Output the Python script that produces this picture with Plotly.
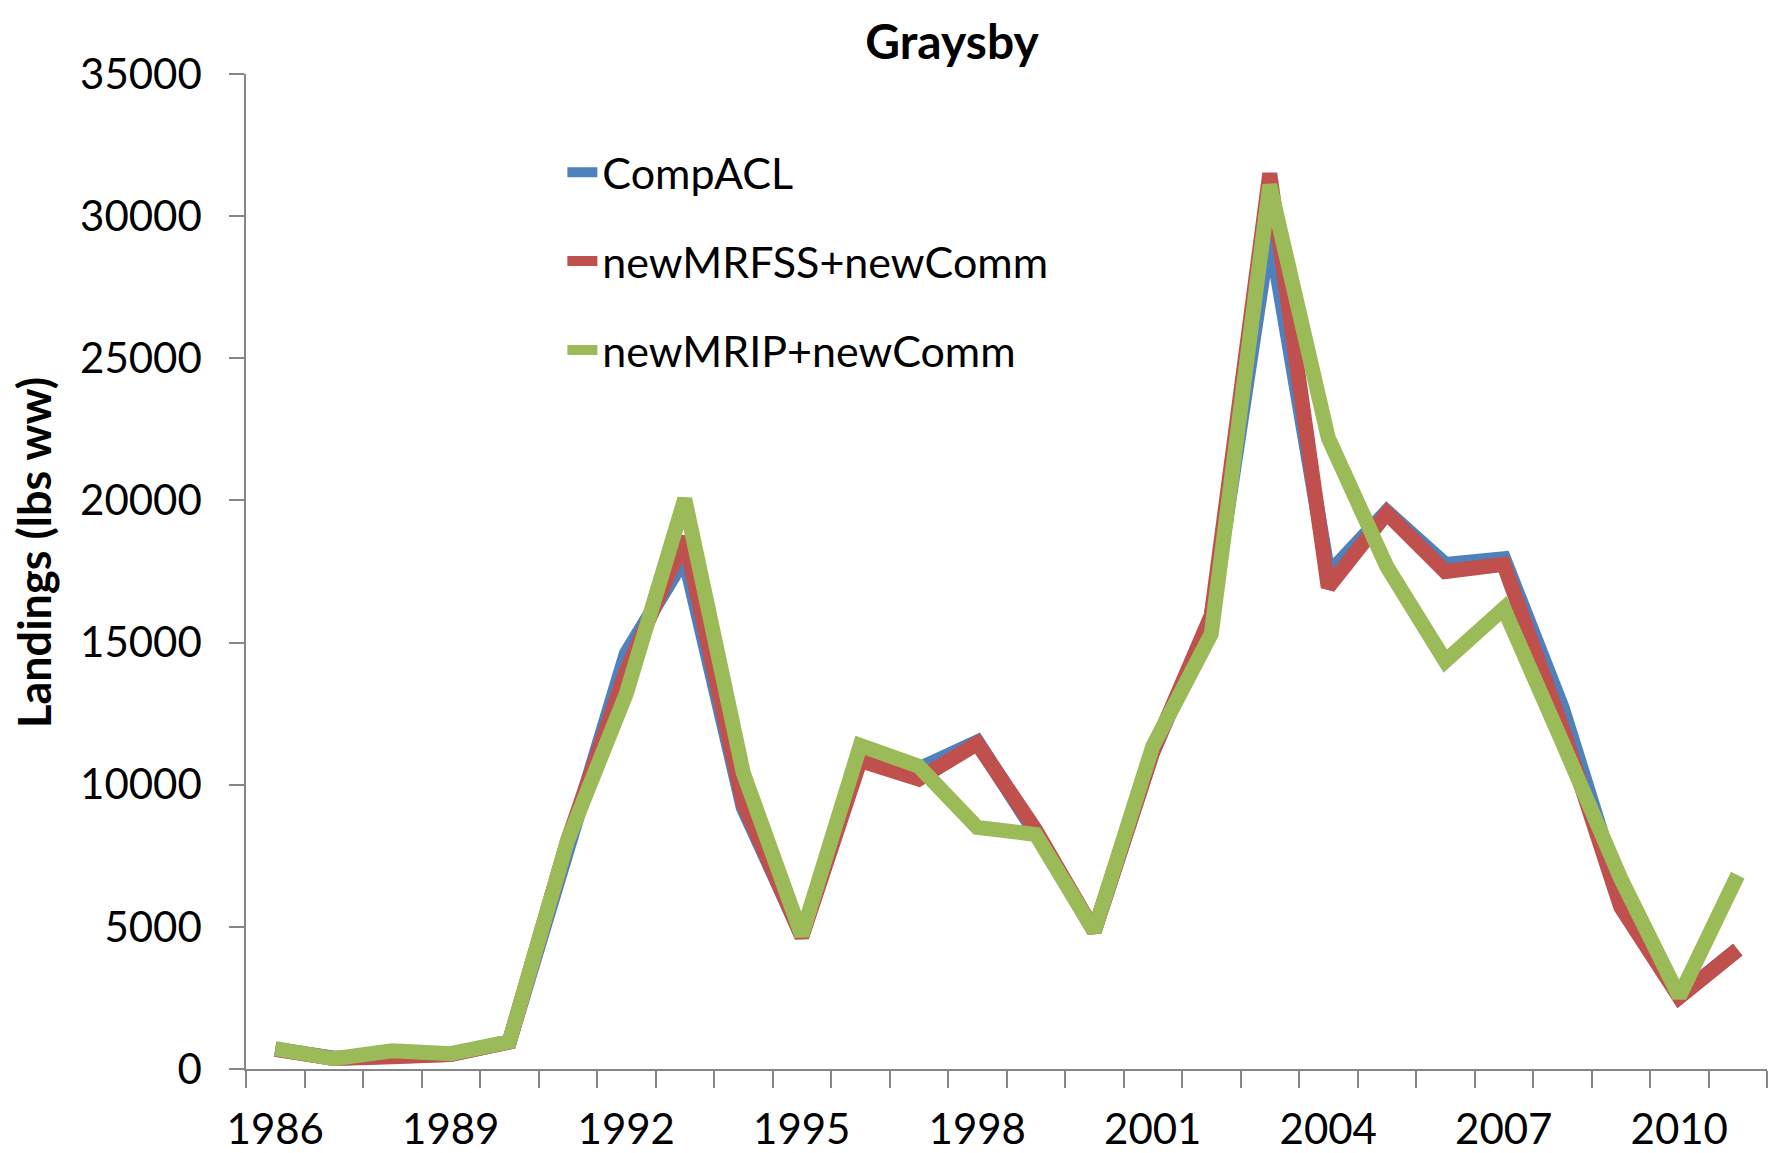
import plotly.graph_objects as go

years = list(range(1986, 2012))
compacl = [700, 380, 450, 520, 950, 8000, 14600, 18000, 9200, 4700, 10900, 10550, 11500, 8300,
           4850, 11150, 15900, 29500, 17400, 19600, 17750, 17950, 12700, 6100, 2550, 4200]
newmrfss = [690, 370, 430, 510, 950, 8050, 14000, 18700, 9350, 4650, 10850, 10200, 11450, 8400,
            4850, 11150, 15950, 31500, 16950, 19550, 17500, 17750, 12000, 5700, 2530, 4200]
newmrip = [720, 360, 640, 540, 960, 8050, 13200, 20050, 10420, 4700, 11380, 10650, 8500, 8250,
           4850, 11350, 15300, 31100, 22200, 17680, 14350, 16200, 11500, 6700, 2550, 6820]

series_names = ["CompACL", "newMRFSS+newComm", "newMRIP+newComm"]
series_vals = [compacl, newmrfss, newmrip]
colors = ["#4F81BD", "#C0504D", "#9BBB59"]
xtick_years = list(range(1986, 2012, 3))
FONT = "Lato, Carlito, Calibri, sans-serif"

W, H = 1779, 1145
L, R, T, B = 238, 20, 66, 84

fig = go.Figure()
for i, (name, vals, col) in enumerate(zip(series_names, series_vals, colors)):
    fig.add_trace(go.Scatter(
        x=years, y=vals, mode="lines", name=name,
        line=dict(color=col, width=15),
        legendgroup=f"g{i}",
    ))

plot_w = W - L - R
plot_h = H - T - B

fig.update_layout(
    width=W, height=H,
    paper_bgcolor="white", plot_bgcolor="white",
    margin=dict(l=L, r=R, t=T, b=B, autoexpand=False),
    font=dict(family=FONT, size=43, color="black"),
    title=dict(text="<b>Graysby</b>", x=944 / W, xref="container", xanchor="center",
               y=1 - 34 / H, yref="container", yanchor="middle",
               font=dict(size=48, family=FONT, color="black")),
    legend=dict(x=0.208, y=0.936, xanchor="left", yanchor="top",
                bgcolor="rgba(0,0,0,0)", font=dict(size=43, family=FONT),
                tracegroupgap=30, traceorder="grouped"),
    showlegend=True,
    annotations=[dict(
        text="<b>Landings (lbs ww)</b>", textangle=-90,
        xref="paper", yref="paper",
        x=(26 - L) / plot_w, y=(H - B - 545) / plot_h,
        xanchor="center", yanchor="middle", showarrow=False,
        font=dict(size=45, family=FONT, color="black"),
    )],
)

fig.update_xaxes(
    range=[1985.5, 2011.5], showgrid=False, zeroline=False, automargin=False,
    showline=True, linecolor="#868686", linewidth=1.5,
    tickmode="array", tickvals=xtick_years, ticktext=[str(y) for y in xtick_years],
    ticks="", ticklabelstandoff=23,
    tickfont=dict(size=42, family=FONT),
    minor=dict(tick0=1985.5, dtick=1, ticks="outside", ticklen=17,
               tickcolor="#868686", tickwidth=1.5, showgrid=False),
)
fig.update_yaxes(
    range=[0, 35000], dtick=5000, tickformat="d", showgrid=False, zeroline=False,
    automargin=False,
    showline=True, linecolor="#868686", linewidth=1.5,
    ticks="outside", ticklen=15, tickcolor="#868686", tickwidth=1.5,
    ticklabelstandoff=19,
    tickfont=dict(size=42, family=FONT),
)

fig.write_html("out.html")
